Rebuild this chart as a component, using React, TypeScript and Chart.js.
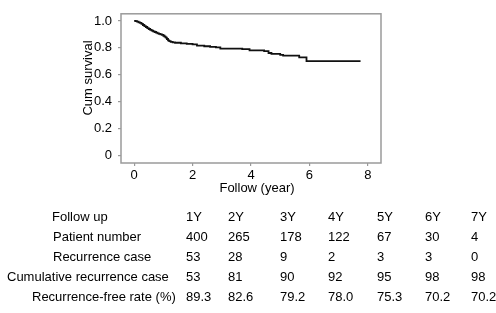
import React, { useEffect, useRef } from "react";
import { Chart, registerables } from "chart.js";

Chart.register(...registerables);

// Kaplan-Meier curve
const times = [0, 0.05, 0.1, 0.15, 0.2, 0.25, 0.3, 0.35, 0.4, 0.45, 0.5, 0.55, 0.6, 0.65, 0.7, 0.75, 0.8, 0.85, 0.9, 0.95, 1.0, 1.04, 1.08, 1.12, 1.16, 1.2, 1.25, 1.32, 1.4, 1.6, 1.8, 2.0, 2.15, 2.4, 2.6, 2.8, 2.95, 3.7, 3.95, 4.45, 4.6, 4.7, 5.0, 5.1, 5.65, 5.9, 7.75];
const survival = [1.0, 0.998, 0.995, 0.99, 0.985, 0.978, 0.97, 0.962, 0.955, 0.947, 0.94, 0.934, 0.928, 0.923, 0.918, 0.913, 0.908, 0.904, 0.9, 0.896, 0.89, 0.884, 0.876, 0.866, 0.856, 0.85, 0.845, 0.841, 0.838, 0.834, 0.83, 0.826, 0.816, 0.812, 0.808, 0.804, 0.794, 0.79, 0.782, 0.776, 0.762, 0.756, 0.748, 0.742, 0.73, 0.702, 0.702];

const xTicks = [0, 2, 4, 6, 8];
const yTicks = [0, 0.2, 0.4, 0.6, 0.8, 1.0];

// Table
const rowLabels = ["Follow up", "Patient number", "Recurrence case", "Cumulative recurrence case", "Recurrence-free rate (%)"];
const followUp = ["1Y", "2Y", "3Y", "4Y", "5Y", "6Y", "7Y"];
const patientNumber = ["400", "265", "178", "122", "67", "30", "4"];
const recurrenceCase = ["53", "28", "9", "2", "3", "3", "0"];
const cumulativeRecurrence = ["53", "81", "90", "92", "95", "98", "98"];
const recurrenceFreeRate = ["89.3", "82.6", "79.2", "78.0", "75.3", "70.2", "70.2"];

const FONT = "'Liberation Sans', Arial, Helvetica, sans-serif";

export default function App() {
  const ref = useRef<HTMLCanvasElement | null>(null);

  useEffect(() => {
    const canvas = ref.current;
    if (!canvas) return;

    const rows = [followUp, patientNumber, recurrenceCase, cumulativeRecurrence, recurrenceFreeRate];
    const rowLabelX = [52, 53, 53, 7, 32];
    const colX = [186, 228, 280, 328, 377, 425, 471];
    const rowY0 = 217;
    const rowStep = 20;

    const extras = {
      id: "extras",
      afterDraw(chart: any) {
        const ctx = chart.ctx;
        const a = chart.chartArea;
        ctx.save();
        // box
        ctx.strokeStyle = "#9a9a9a";
        ctx.lineWidth = 1.5;
        ctx.strokeRect(a.left, a.top, a.right - a.left, a.bottom - a.top);
        // axis titles
        ctx.fillStyle = "#000";
        ctx.font = `13px ${FONT}`;
        ctx.textAlign = "center";
        ctx.textBaseline = "middle";
        ctx.fillText("Follow (year)", 257, 188);
        ctx.save();
        ctx.translate(88, 78);
        ctx.rotate(-Math.PI / 2);
        ctx.fillText("Cum survival", 0, 0);
        ctx.restore();
        // table
        ctx.textAlign = "left";
        rows.forEach((row, r) => {
          const y = rowY0 + r * rowStep;
          ctx.fillText(rowLabels[r], rowLabelX[r], y);
          row.forEach((v, c) => ctx.fillText(v, colX[c], y));
        });
        ctx.restore();
      },
    };

    const chart = new Chart(canvas, {
      type: "line",
      data: {
        datasets: [
          {
            data: times.map((t, i) => ({ x: t, y: survival[i] })),
            borderColor: "#111",
            borderWidth: 1.8,
            pointRadius: 0,
            stepped: true,
            fill: false,
          },
        ],
      },
      options: {
        responsive: false,
        animation: false,
        layout: { padding: { left: 0, right: 115, top: 11, bottom: 120 } },
        plugins: { legend: { display: false }, tooltip: { enabled: false }, title: { display: false } },
        scales: {
          x: {
            type: "linear",
            min: -0.45,
            max: 8.45,
            afterFit: (s: any) => { s.height = 30; },
            afterBuildTicks: (s: any) => { s.ticks = xTicks.map((v) => ({ value: v })); },
            grid: { drawOnChartArea: false, drawTicks: true, tickLength: 3, color: "#9a9a9a", lineWidth: 1.2 },
            border: { display: false },
            ticks: { color: "#000", font: { family: FONT, size: 13 }, padding: 2, maxRotation: 0, callback: (v: any) => String(v) },
          },
          y: {
            type: "linear",
            min: -0.055,
            max: 1.053,
            afterFit: (s: any) => { s.width = 121; },
            afterBuildTicks: (s: any) => { s.ticks = yTicks.map((v) => ({ value: v })); },
            grid: { drawOnChartArea: false, drawTicks: true, tickLength: 3, color: "#9a9a9a", lineWidth: 1.2 },
            border: { display: false },
            ticks: {
              color: "#000",
              font: { family: FONT, size: 13 },
              padding: 6,
              callback: (v: any) => (Number(v) === 0 ? "0" : Number(v).toFixed(1)),
            },
          },
        },
      },
      plugins: [extras],
    });

    return () => chart.destroy();
  }, []);

  return (
    <div style={{ position: "absolute", left: 0, top: 0, width: 496, height: 313, background: "#fff" }}>
      <canvas ref={ref} width={496} height={313} style={{ display: "block" }} />
    </div>
  );
}
